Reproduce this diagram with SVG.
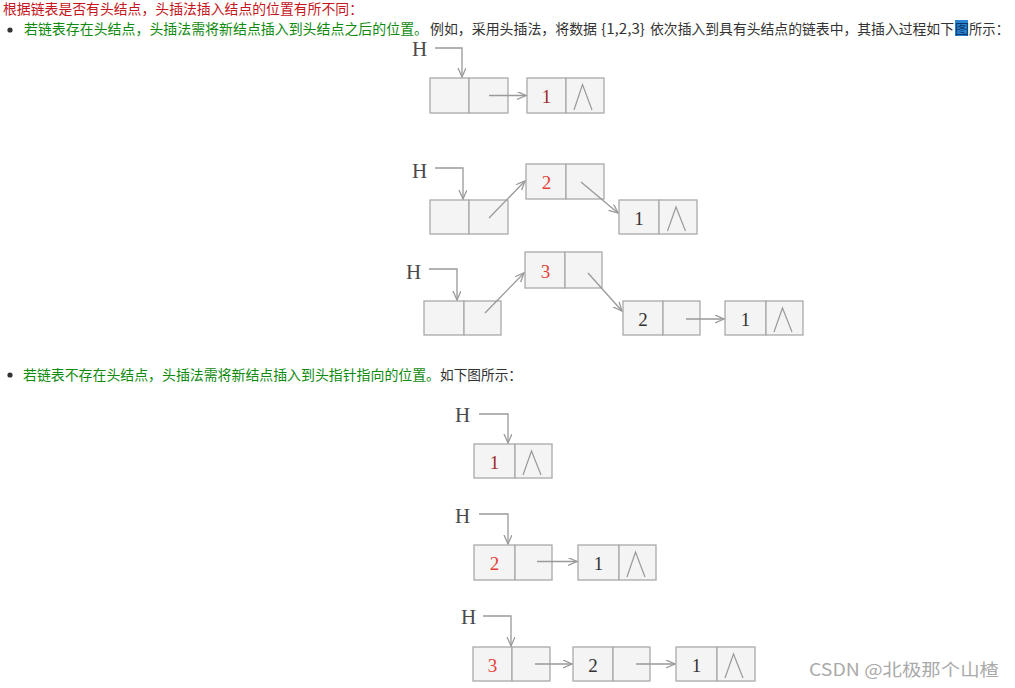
<svg xmlns="http://www.w3.org/2000/svg" width="1015" height="688" viewBox="0 0 1015 688">
<defs>
<style>
.txt{font-family:"Noto Sans CJK SC","Noto Sans",sans-serif;font-size:14px}
.red{fill:#c4161c}
.grn{fill:#0f8a0f}
.dk{fill:#333}
.cell{fill:#f4f4f4;stroke:#aaa;stroke-width:1.3}
.lam{fill:none;stroke:#999;stroke-width:1.2}
.lnk{fill:none;stroke:#999;stroke-width:1.3}
.h{font-family:"Liberation Serif","DejaVu Serif",serif;font-size:21px;fill:#4a4a4a}
.num{font-family:"Liberation Serif","DejaVu Serif",serif;font-size:19px;text-anchor:middle}
.n-old{fill:#333}
.n-new{fill:#e2413a}
.n-first{fill:#9e2b2b}
</style>
<marker id="ah" markerUnits="userSpaceOnUse" markerWidth="12" markerHeight="10" refX="9" refY="4" orient="auto">
<path d="M0,0 L9,4 L0,8" fill="none" stroke="#999" stroke-width="1.3"/>
</marker>
</defs>
<rect width="1015" height="688" fill="#fff"/>

<g id="text">
<text class="txt red" x="3" y="14" textLength="360" lengthAdjust="spacingAndGlyphs">根据链表是否有头结点，头插法插入结点的位置有所不同：</text>
<circle cx="10" cy="30" r="2.6" fill="#333"/>
<rect x="955" y="20" width="13" height="16" fill="#2a86d4"/>
<text class="txt" y="34"><tspan class="grn" x="24" textLength="404" lengthAdjust="spacingAndGlyphs">若链表存在头结点，头插法需将新结点插入到头结点之后的位置。</tspan><tspan class="dk" x="430" textLength="167" lengthAdjust="spacingAndGlyphs">例如，采用头插法，将数据</tspan><tspan class="dk" x="601" textLength="44" lengthAdjust="spacingAndGlyphs">{1,2,3}</tspan><tspan class="dk" x="650" textLength="304" lengthAdjust="spacingAndGlyphs">依次插入到具有头结点的链表中，其插入过程如下</tspan><tspan x="955" fill="#0a3466">图</tspan><tspan class="dk" x="969" textLength="40" lengthAdjust="spacingAndGlyphs">所示：</tspan></text>
<circle cx="10" cy="375" r="2.6" fill="#333"/>
<text class="txt" y="380"><tspan class="grn" x="23" textLength="417" lengthAdjust="spacingAndGlyphs">若链表不存在头结点，头插法需将新结点插入到头指针指向的位置。</tspan><tspan class="dk" x="440" textLength="82" lengthAdjust="spacingAndGlyphs">如下图所示：</tspan></text>
<text x="809" y="676" font-family="'Noto Sans CJK SC','Noto Sans',sans-serif" font-size="17" fill="#aaa" textLength="190" lengthAdjust="spacingAndGlyphs">CSDN @北极那个山楂</text>
</g>

<!-- Diagram A: with head node -->
<g id="a1-H"><text class="h" x="412" y="56">H</text></g>
<g id="a1-head"><rect class="cell" x="430" y="78" width="39" height="35"/><rect class="cell" x="469" y="78" width="39" height="35"/></g>
<g id="a1-n1"><rect class="cell" x="527" y="78" width="39" height="35"/><rect class="cell" x="566" y="78" width="38" height="35"/><text class="num n-first" x="546.5" y="103">1</text><path class="lam" d="M574,110 L582.5,84.5 L592,110"/></g>

<g id="a2-H"><text class="h" x="412" y="178">H</text></g>
<g id="a2-head"><rect class="cell" x="430" y="200" width="39" height="34"/><rect class="cell" x="469" y="200" width="39" height="34"/></g>
<g id="a2-n2"><rect class="cell" x="526" y="164" width="40" height="35"/><rect class="cell" x="566" y="164" width="38" height="35"/><text class="num n-new" x="546.5" y="189">2</text></g>
<g id="a2-n1"><rect class="cell" x="619" y="200" width="40" height="34"/><rect class="cell" x="659" y="200" width="38" height="34"/><text class="num n-old" x="639" y="225">1</text><path class="lam" d="M667.5,231 L676,207 L685.5,231"/></g>

<g id="a3-H"><text class="h" x="406" y="279">H</text></g>
<g id="a3-head"><rect class="cell" x="424" y="301" width="40" height="34"/><rect class="cell" x="464" y="301" width="37" height="34"/></g>
<g id="a3-n3"><rect class="cell" x="525" y="252" width="40" height="36"/><rect class="cell" x="565" y="252" width="37" height="36"/><text class="num n-new" x="545.5" y="278">3</text></g>
<g id="a3-n2"><rect class="cell" x="623" y="301" width="40" height="34"/><rect class="cell" x="663" y="301" width="37" height="34"/><text class="num n-old" x="643" y="326">2</text></g>
<g id="a3-n1"><rect class="cell" x="725" y="301" width="41" height="34"/><rect class="cell" x="766" y="301" width="37" height="34"/><text class="num n-old" x="745.5" y="326">1</text><path class="lam" d="M774,332 L782.5,308 L792,332"/></g>

<!-- Diagram B: without head node -->
<g id="b1-H"><text class="h" x="455" y="422">H</text></g>
<g id="b1-n1"><rect class="cell" x="474" y="444" width="41" height="34"/><rect class="cell" x="515" y="444" width="37" height="34"/><text class="num n-first" x="494.5" y="469">1</text><path class="lam" d="M523,475 L531.5,451 L541,475"/></g>

<g id="b2-H"><text class="h" x="455" y="523">H</text></g>
<g id="b2-n2"><rect class="cell" x="474" y="545" width="41" height="35"/><rect class="cell" x="515" y="545" width="37" height="35"/><text class="num n-new" x="494.5" y="570">2</text></g>
<g id="b2-n1"><rect class="cell" x="578" y="545" width="41" height="35"/><rect class="cell" x="619" y="545" width="37" height="35"/><text class="num n-old" x="598.5" y="570">1</text><path class="lam" d="M627,577 L635.5,552 L645,577"/></g>

<g id="b3-H"><text class="h" x="461" y="624">H</text></g>
<g id="b3-n3"><rect class="cell" x="473" y="647" width="39" height="34"/><rect class="cell" x="512" y="647" width="38" height="34"/><text class="num n-new" x="492.5" y="672">3</text></g>
<g id="b3-n2"><rect class="cell" x="573" y="647" width="40" height="34"/><rect class="cell" x="613" y="647" width="37" height="34"/><text class="num n-old" x="593" y="672">2</text></g>
<g id="b3-n1"><rect class="cell" x="676" y="647" width="41" height="34"/><rect class="cell" x="717" y="647" width="38" height="34"/><text class="num n-old" x="696.5" y="672">1</text><path class="lam" d="M725,678 L733.5,654 L743,678"/></g>

<g id="connectors">
<path class="lnk" marker-end="url(#ah)" d="M435,48 H462 V77"/>
<path class="lnk" marker-end="url(#ah)" d="M489,95.5 H526"/>
<path class="lnk" marker-end="url(#ah)" d="M435,168 H463 V199"/>
<path class="lnk" marker-end="url(#ah)" d="M489,218 L525,181"/>
<path class="lnk" marker-end="url(#ah)" d="M581,182 L618,213"/>
<path class="lnk" marker-end="url(#ah)" d="M429,269 H457 V300"/>
<path class="lnk" marker-end="url(#ah)" d="M485,313 L524,273"/>
<path class="lnk" marker-end="url(#ah)" d="M588,273 L622,311"/>
<path class="lnk" marker-end="url(#ah)" d="M686,319 H724"/>
<path class="lnk" marker-end="url(#ah)" d="M479,414 H508 V443"/>
<path class="lnk" marker-end="url(#ah)" d="M479,514 H508 V544"/>
<path class="lnk" marker-end="url(#ah)" d="M537,561.5 H577"/>
<path class="lnk" marker-end="url(#ah)" d="M483,616 H511 V646"/>
<path class="lnk" marker-end="url(#ah)" d="M535,664 H572"/>
<path class="lnk" marker-end="url(#ah)" d="M636,664 H675"/>
</g>
</svg>
